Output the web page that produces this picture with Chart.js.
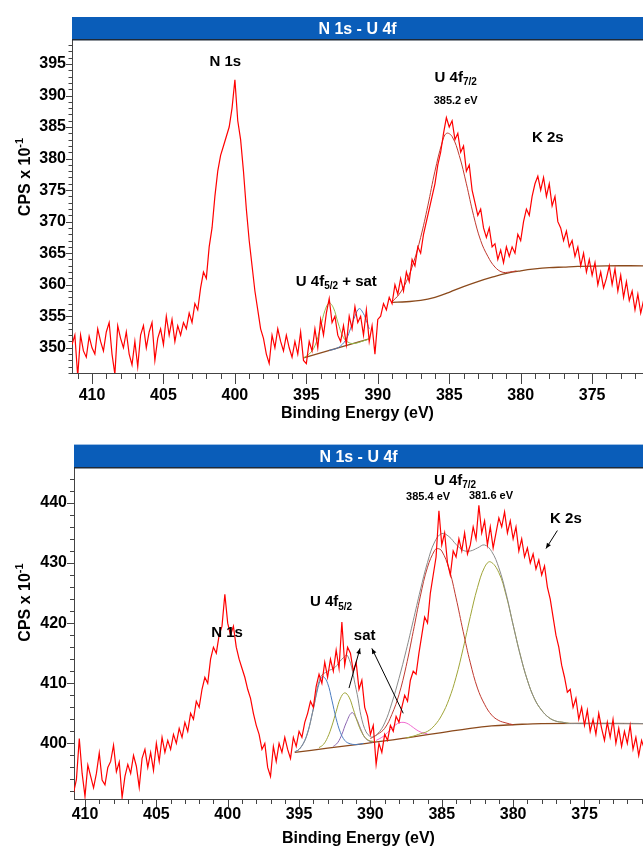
<!DOCTYPE html>
<html>
<head>
<meta charset="utf-8">
<script src="https://cdn.jsdelivr.net/npm/chart.js@4/dist/chart.umd.min.js"></script>
<style>
  html, body { margin: 0; padding: 0; background: #fff; }
  canvas { position: absolute; left: 0; }
  #chartTop { top: 0; }
  #chartBottom { top: 430px; }
</style>
</head>
<body>
<canvas id="chartTop" width="643" height="430"></canvas>
<canvas id="chartBottom" width="643" height="419"></canvas>
<script>
// ---- data (binding energy in eV, counts in CPS x 10^-1) ----
const eStep = 0.2;

// top spectrum, starts at 411.4 eV and goes down in 0.2 eV steps
const topStart = 411.4;
const topCounts = [
  350.5, 352, 345.5, 352, 349.5, 348.5, 351.8, 350, 349, 353,
  351, 349.5, 352.5, 354, 349, 345.8, 353.5, 351.5, 350, 352.5,
  349, 347.3, 351, 347, 352, 353.5, 350, 352.5, 354, 348,
  351.5, 353, 350.5, 355, 352, 354.5, 351, 353.5, 352, 354,
  353, 355.5, 354, 357, 356, 359.5, 362, 361, 366, 369,
  374, 378, 380.5, 382, 383.5, 385, 388, 392.5, 386, 383,
  378, 372, 367, 363, 359, 356, 353, 351.5, 349, 347.5,
  352, 350, 353, 351, 349.5, 352, 350, 348.5, 351, 349,
  352.5, 348, 347.5, 351, 349.5, 353, 350, 354.5, 352, 355.5,
  357.8, 354, 355, 352, 351, 353.5, 350.5, 355, 353, 356.5,
  354, 355, 352, 356, 351, 353.5, 349, 354.5, 355, 357,
  356, 358, 357, 360, 358.5, 361, 359, 362, 360.5, 364,
  363, 366, 365, 368, 370, 372, 374, 376, 379, 381,
  384, 386.5, 385, 386, 383, 384, 381, 382, 378, 379,
  375, 373, 371, 372, 369, 367.5, 369, 366, 366.5, 364,
  365.5, 363.5, 366, 364.5, 366, 365, 368, 367, 370, 372,
  371, 374, 376, 377.2, 375, 377, 374, 376, 372.5, 374,
  370, 369, 367, 368.5, 366, 367, 364.5, 366, 363, 365,
  362, 364, 361.5, 363.5, 360, 362, 359.5, 361, 363, 360,
  362.5, 359, 361.5, 358, 360.5, 357.5, 359, 356, 358.5, 355.5,
  357.5
];

// top fit curves [eV, counts]
const topBgLow = [[395.2, 348.4], [390.6, 351.4]];
const topGreen = [[395.2, 348.4], [394.8, 349.0], [394.4, 350.3], [394.0, 353.3], [393.7, 355.9], [393.4, 357.1],
  [393.1, 356.3], [392.8, 354.1], [392.4, 351.6], [392.0, 350.8], [391.6, 350.7], [391.0, 351.1], [390.6, 351.4]];
const topBlue = [[393.4, 349.6], [393.0, 349.8], [392.6, 350.3], [392.2, 351.4], [391.9, 353.1], [391.6, 355.0],
  [391.3, 356.2], [391.0, 355.4], [390.8, 354.3], [390.6, 353.0]];
const topBgHigh = [[389.0, 357.2], [388, 357.3], [387, 357.5], [386, 358.0], [385, 358.8], [384, 359.7], [383, 360.5],
  [382, 361.2], [381, 361.8], [380, 362.2], [379, 362.5], [378, 362.7], [377, 362.8], [376, 362.9], [374, 363.0], [371.4, 363.0]];
const topU72 = [[389.0, 357.3], [388.5, 358.5], [388.0, 360.5], [387.5, 363.5], [387.0, 367.5], [386.5, 372.5],
  [386.0, 378], [385.5, 382.5], [385.2, 384], [384.8, 383.5], [384.3, 380.5], [383.8, 376], [383.3, 371],
  [382.8, 367], [382.3, 364.5], [381.8, 362.8], [381.3, 362], [380.8, 362], [380.3, 362.2]];

// bottom spectrum, starts at 410.8 eV
const bottomStart = 410.8;
const bottomCounts = [
  391.8, 394, 400.8, 395, 391.2, 396.4, 394.5, 392.6, 395, 398.4,
  393.9, 393.1, 396, 397, 399.7, 395.3, 396.9, 391, 394.5, 396.5,
  395, 398, 396.2, 392.7, 397.5, 399, 396, 398.5, 395.5, 400,
  397, 401, 398.5, 400.5, 399, 401.5, 400, 402.5, 401, 403.5,
  402, 405, 404, 407, 406, 409, 411, 410, 414, 416,
  415, 418, 419.5, 424.8, 420, 418, 419.5, 416, 414, 412.5,
  411, 409, 407.5, 405, 403, 401.5, 399, 400, 396, 394.5,
  399.5, 397, 400, 398.5, 401, 399, 397.5, 401, 399.5, 402,
  401, 403.5, 405, 407, 406, 409.5, 411.5, 410, 413.5, 411,
  414, 412, 415.5, 412.5, 420.2, 413, 416, 415, 412, 413.5,
  409, 410.5, 406, 404.5, 401.5, 403, 396.5, 400, 398.5, 401.5,
  400.5, 403, 402, 404.5, 403.5, 406, 408, 407, 410.5, 412,
  411.5, 415, 418, 421, 420, 425, 428, 431, 438.7, 433,
  435, 430, 428, 432, 431, 434, 432, 435, 431.5, 433,
  436, 434, 439.6, 435, 437, 433, 436, 432.5, 435, 437.5,
  436, 438.5, 435, 437, 434, 436, 432, 434, 431, 432.5,
  430, 431.5, 429, 430.5, 428, 429.5, 426, 424, 421, 418,
  416, 413, 411, 408.5, 409, 406, 407.5, 404, 406, 403,
  405.5, 402, 404, 401.5, 405, 402.5, 400.5, 403.5, 401, 404,
  400, 402.5, 399.5, 402, 400, 403, 399, 401, 398, 400.5,
  399
];

// bottom fit curves [eV, counts]
const botBg = [[395.3, 398.5], [393, 399.2], [391, 399.8], [389, 400.4], [387, 401.1], [385, 401.8], [383, 402.5],
  [381.5, 402.9], [380, 403.1], [378, 403.3], [370.9, 403.3]];
const botBlue = [[395.3, 398.6], [395.0, 399.0], [394.7, 400.0], [394.4, 401.8], [394.1, 404.7], [393.8, 408.0],
  [393.5, 410.6], [393.3, 411.1], [393.0, 410.0], [392.7, 407.2], [392.4, 404.1], [392.1, 401.8], [391.8, 400.5],
  [391.5, 400.0], [391.0, 399.8], [390.5, 400.0]];
const botOliveA = [[393.6, 399.3], [393.3, 399.8], [393.0, 401.0], [392.7, 402.9], [392.4, 405.3], [392.1, 407.5],
  [391.8, 408.4], [391.5, 407.7], [391.2, 405.7], [390.9, 403.5], [390.6, 401.8], [390.3, 400.8], [390.0, 400.4], [389.6, 400.3]];
const botPurple = [[392.6, 399.5], [392.3, 400.1], [392.0, 401.5], [391.7, 403.4], [391.3, 405.1], [391.0, 404.2],
  [390.7, 402.5], [390.4, 401.0], [390.1, 400.4], [389.8, 400.2]];
const botPink = [[389.6, 400.5], [389.2, 401.0], [388.8, 401.8], [388.4, 402.7], [388.1, 403.3], [387.8, 403.5],
  [387.5, 403.4], [387.2, 403.0], [386.8, 402.3], [386.4, 401.8], [386.0, 401.6]];
const botU72 = [[390.0, 400.8], [389.5, 401.5], [389.0, 402.5], [388.5, 404.8], [388.0, 408.1], [387.5, 412.8],
  [387.0, 418.6], [386.5, 424.5], [386.0, 429.3], [385.5, 432.1], [385.3, 432.4], [385.0, 432.0], [384.5, 429.1],
  [384.0, 424.2], [383.5, 418.6], [383.0, 413.4], [382.5, 409.2], [382.0, 406.5], [381.5, 404.7], [381.0, 403.8],
  [380.5, 403.4], [380.0, 403.1]];
const botOliveB = [[387.5, 400.9], [387.0, 401.2], [386.5, 401.6], [386.0, 402.0], [385.5, 403.0], [385.0, 404.7],
  [384.5, 407.3], [384.0, 411.0], [383.5, 415.8], [383.0, 421.1], [382.5, 425.9], [382.0, 429.3], [381.6, 430.2],
  [381.0, 428.4], [380.5, 424.7], [380.0, 419.7], [379.5, 414.7], [379.0, 410.5], [378.5, 407.4], [378.0, 405.5],
  [377.5, 404.3], [377.0, 403.7], [376.5, 403.5], [376.0, 403.3]];
const botEnvelope = [[395.3, 398.6], [395.0, 399.0], [394.5, 401.0], [394.0, 405.7], [393.5, 411.0], [393.0, 412.0],
  [392.5, 412.6], [392.0, 414.0], [391.6, 414.6], [391.0, 409.0], [390.5, 403.1], [390.0, 401.1], [389.5, 401.6],
  [389.0, 403.4], [388.5, 406.7], [388.0, 410.8], [387.5, 415.4], [387.0, 420.4], [386.5, 425.5], [386.0, 430.1],
  [385.5, 433.5], [385.0, 434.9], [384.5, 434.4], [384.0, 433.1], [383.5, 432.1], [383.0, 432.0], [382.5, 432.5],
  [382.0, 433.0], [381.5, 431.9], [381.0, 429.2], [380.5, 425.0], [380.0, 419.7], [379.5, 414.7], [379.0, 410.5],
  [378.5, 407.4], [378.0, 405.5], [377.5, 404.3], [377.0, 403.7], [376.5, 403.5], [376.0, 403.3], [370.9, 403.3]];

// tick labels
const xTickLabels = [410, 405, 400, 395, 390, 385, 380, 375];
const yTickLabelsTop = [350, 355, 360, 365, 370, 375, 380, 385, 390, 395];
const yTickLabelsBottom = [400, 410, 420, 430, 440];

const FONT = '"Liberation Sans", Arial, Helvetica, sans-serif';

function spectrum(start, vals) {
  return vals.map((y, i) => ({ x: +(start - i * eStep).toFixed(1), y: y }));
}
function pairs(arr) {
  return arr.map(p => ({ x: p[0], y: p[1] }));
}
function range(a, b, s) {
  const out = [];
  for (let v = a; v <= b + 1e-9; v += s) out.push(+v.toFixed(2));
  return out;
}
function line(data, color, width, tension) {
  return { data: data, borderColor: color, borderWidth: width, pointRadius: 0, showLine: true,
    tension: tension, fill: false };
}

function drawRich(ctx, parts, cx, cy, size) {
  const fonts = parts.map(p => 'bold ' + ((p.sub || p.sup) ? Math.round(size * 0.68) : size) + 'px ' + FONT);
  let w = 0;
  parts.forEach((p, i) => { ctx.font = fonts[i]; w += ctx.measureText(p.t).width; });
  let x = cx - w / 2;
  ctx.textAlign = 'left';
  ctx.textBaseline = 'middle';
  parts.forEach((p, i) => {
    ctx.font = fonts[i];
    const dy = p.sub ? size * 0.32 : (p.sup ? -size * 0.38 : 0);
    ctx.fillText(p.t, x, cy + dy);
    x += ctx.measureText(p.t).width;
  });
}

function arrow(ctx, x1, y1, x2, y2) {
  ctx.beginPath(); ctx.moveTo(x1, y1); ctx.lineTo(x2, y2); ctx.stroke();
  const a = Math.atan2(y2 - y1, x2 - x1), h = 6;
  ctx.beginPath();
  ctx.moveTo(x2, y2);
  ctx.lineTo(x2 - h * Math.cos(a - 0.4), y2 - h * Math.sin(a - 0.4));
  ctx.lineTo(x2 - h * Math.cos(a + 0.4), y2 - h * Math.sin(a + 0.4));
  ctx.closePath(); ctx.fill();
}

// decorations: title bar, tick marks, y title, peak labels
function panelPlugin(p) {
  return {
    id: 'panel',
    afterDraw(chart) {
      const ctx = chart.ctx, a = chart.chartArea, xs = chart.scales.x, ys = chart.scales.y;
      ctx.save();
      // title bar
      ctx.fillStyle = '#0a5db9';
      ctx.fillRect(a.left, p.barTop, a.right - a.left, a.top - p.barTop);
      ctx.fillStyle = '#1f2a38';
      ctx.fillRect(a.left, a.top - 1, a.right - a.left, 1.5);
      ctx.fillStyle = '#fff';
      ctx.font = 'bold 16px ' + FONT;
      ctx.textAlign = 'center';
      ctx.textBaseline = 'middle';
      ctx.fillText('N 1s - U 4f', (a.left + 643) / 2, (p.barTop + a.top) / 2 + 1);

      // tick marks
      ctx.strokeStyle = '#444';
      ctx.lineWidth = 1;
      ctx.beginPath();
      range(Math.ceil(xs.min), Math.floor(xs.max), 1).forEach(v => {
        const px = Math.round(xs.getPixelForValue(v)) + 0.5;
        const len = xTickLabels.includes(v) ? p.xMajor : p.xMinor;
        ctx.moveTo(px, xs.top); ctx.lineTo(px, xs.top + len);
      });
      range(Math.ceil(ys.min / p.yMinorStep) * p.yMinorStep, ys.max, p.yMinorStep).forEach(v => {
        const py = Math.round(ys.getPixelForValue(v)) + 0.5;
        const len = p.yLabels.includes(v) ? p.yMajor : p.yMinor;
        ctx.moveTo(ys.right, py); ctx.lineTo(ys.right - len, py);
      });
      ctx.stroke();

      // y axis title
      ctx.fillStyle = '#000';
      ctx.save();
      ctx.translate(p.yTitleX, p.yTitleY);
      ctx.rotate(-Math.PI / 2);
      drawRich(ctx, [{ t: 'CPS x 10' }, { t: '-1', sup: true }], 0, 0, 16);
      ctx.restore();

      // peak labels and arrows
      p.notes.forEach(n => {
        drawRich(ctx, n.parts, xs.getPixelForValue(n.e), ys.getPixelForValue(n.v), n.size);
      });
      ctx.strokeStyle = '#000';
      ctx.fillStyle = '#000';
      p.arrows.forEach(r => {
        arrow(ctx, xs.getPixelForValue(r[0]), ys.getPixelForValue(r[1]),
          xs.getPixelForValue(r[2]), ys.getPixelForValue(r[3]));
      });
      ctx.restore();
    }
  };
}

function makeChart(id, p, datasets) {
  const tickFont = { family: FONT, size: 16, weight: 'bold' };
  return new Chart(document.getElementById(id), {
    type: 'scatter',
    data: { datasets: datasets },
    options: {
      responsive: false,
      animation: false,
      events: [],
      layout: { padding: { top: p.areaTop, left: 0, right: 0, bottom: 0 } },
      plugins: { legend: { display: false }, tooltip: { enabled: false } },
      scales: {
        x: {
          type: 'linear', reverse: true, min: p.xMin, max: p.xMax,
          afterBuildTicks: s => { s.ticks = xTickLabels.map(v => ({ value: v })); },
          afterFit: s => { s.height = p.xAxisH; },
          grid: { display: false, drawTicks: false, tickLength: 0 },
          border: { display: true, color: '#444', width: 1 },
          ticks: { autoSkip: false, maxRotation: 0, minRotation: 0, padding: p.xPad, color: '#000', font: tickFont,
            callback: v => String(v) },
          title: { display: true, text: 'Binding Energy (eV)', color: '#000', font: tickFont,
            padding: { top: 0, bottom: p.xTitlePad } }
        },
        y: {
          type: 'linear', min: p.yMin, max: p.yMax,
          afterBuildTicks: s => { s.ticks = p.yLabels.map(v => ({ value: v })); },
          afterFit: s => { s.width = p.areaLeft; },
          grid: { display: false, drawTicks: false, tickLength: 0 },
          border: { display: true, color: '#444', width: 1 },
          ticks: { autoSkip: false, padding: p.yPad, color: '#000', font: tickFont, callback: v => String(v) }
        }
      }
    },
    plugins: [panelPlugin(p)]
  });
}

const topPanel = {
  areaTop: 40, areaLeft: 72, barTop: 17, xAxisH: 57,
  xMin: 371.44, xMax: 411.4, yMin: 346.0, yMax: 398.8,
  xPad: 13, xTitlePad: 7, yPad: 6, xMajor: 11, xMinor: 6, yMajor: 6, yMinor: 3.5, yMinorStep: 1,
  yLabels: yTickLabelsTop, yTitleX: 26, yTitleY: 177,
  notes: [
    { e: 400.67, v: 395.3, size: 15, parts: [{ t: 'N 1s' }] },
    { e: 384.55, v: 392.8, size: 15, parts: [{ t: 'U 4f' }, { t: '7/2', sub: true }] },
    { e: 384.55, v: 389.1, size: 11, parts: [{ t: '385.2 eV' }] },
    { e: 378.1, v: 383.3, size: 15, parts: [{ t: 'K 2s' }] },
    { e: 392.9, v: 360.5, size: 15, parts: [{ t: 'U 4f' }, { t: '5/2', sub: true }, { t: ' + sat' }] }
  ],
  arrows: []
};

const bottomPanel = {
  areaTop: 38, areaLeft: 74, barTop: 14.6, xAxisH: 50,
  xMin: 370.9, xMax: 410.77, yMin: 390.75, yMax: 445.8,
  xPad: 6.4, xTitlePad: 1, yPad: 7, xMajor: 8, xMinor: 5, yMajor: 7, yMinor: 4, yMinorStep: 2,
  yLabels: yTickLabelsBottom, yTitleX: 26, yTitleY: 172.5,
  notes: [
    { e: 400.05, v: 418.3, size: 15, parts: [{ t: 'N 1s' }] },
    { e: 392.76, v: 423.5, size: 15, parts: [{ t: 'U 4f' }, { t: '5/2', sub: true }] },
    { e: 390.4, v: 417.8, size: 15, parts: [{ t: 'sat' }] },
    { e: 384.07, v: 443.7, size: 15, parts: [{ t: 'U 4f' }, { t: '7/2', sub: true }] },
    { e: 385.96, v: 440.9, size: 11, parts: [{ t: '385.4 eV' }] },
    { e: 381.55, v: 441.2, size: 11, parts: [{ t: '381.6 eV' }] },
    { e: 376.3, v: 437.4, size: 15, parts: [{ t: 'K 2s' }] }
  ],
  arrows: [
    [391.5, 409.2, 390.73, 415.8],
    [387.7, 405.0, 389.9, 415.8],
    [376.9, 435.4, 377.7, 432.4]
  ]
};

makeChart('chartTop', topPanel, [
  line(spectrum(topStart, topCounts), '#ff0000', 1.2, 0),
  line(pairs(topU72), '#c0392f', 1, 0.4),
  line(pairs(topGreen), '#93b84a', 1, 0.4),
  line(pairs(topBlue), '#4a7cc0', 1, 0.4),
  line(pairs(topBgLow), '#8b4a1c', 1.3, 0),
  line(pairs(topBgHigh), '#8b4a1c', 1.3, 0.4)
]);

makeChart('chartBottom', bottomPanel, [
  line(spectrum(bottomStart, bottomCounts), '#ff0000', 1.2, 0),
  line(pairs(botEnvelope), '#8a8a8a', 1, 0.4),
  line(pairs(botU72), '#c0392f', 1, 0.4),
  line(pairs(botOliveB), '#9fa437', 1, 0.4),
  line(pairs(botBlue), '#4a7cc0', 1, 0.4),
  line(pairs(botOliveA), '#9fa437', 1, 0.4),
  line(pairs(botPurple), '#8a64b0', 1, 0.4),
  line(pairs(botPink), '#f06bd0', 1, 0.4),
  line(pairs(botBg), '#8b4a1c', 1.3, 0.4)
]);
</script>
</body>
</html>
